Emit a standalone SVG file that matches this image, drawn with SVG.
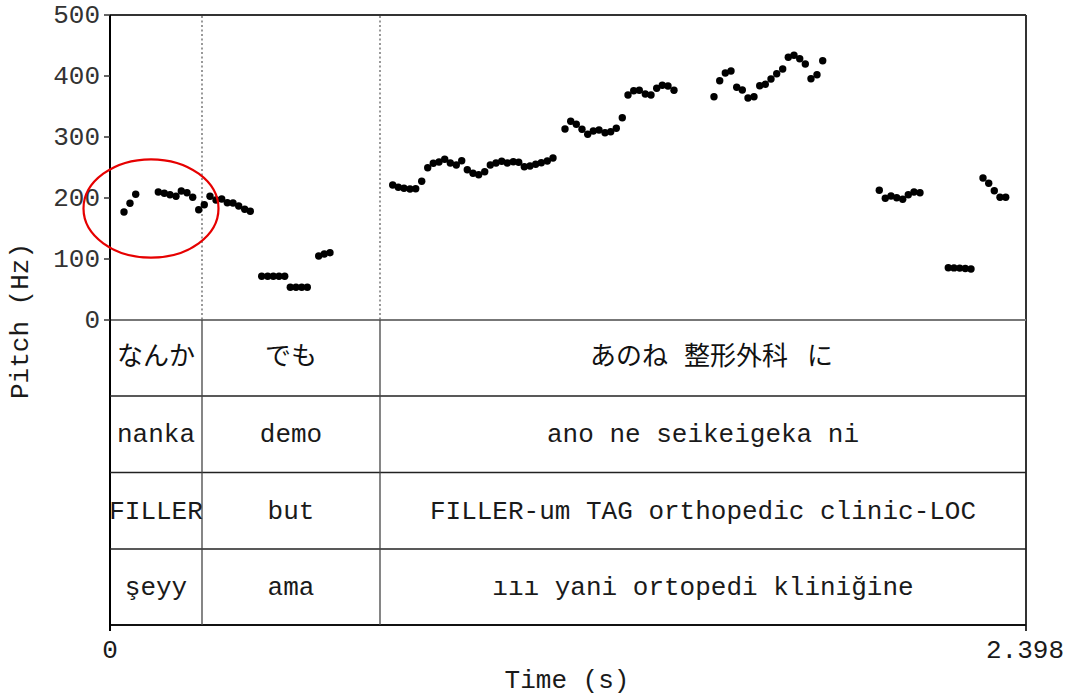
<svg xmlns="http://www.w3.org/2000/svg" width="1070" height="695" viewBox="0 0 1070 695">
<style>
.mono{font-family:"Courier New","Nimbus Mono PS","FreeMono","Liberation Mono",monospace;font-size:26px;fill:#1a1a1a}
.tick{font-family:"Courier New","Nimbus Mono PS","FreeMono","Liberation Mono",monospace;font-size:26px;fill:#333;text-anchor:end}
.jp{font-family:"Noto Sans CJK JP","Noto Sans",sans-serif;font-size:26px;fill:#111;text-anchor:middle}
.js{text-anchor:start}
.mid{text-anchor:middle}
.dots circle{fill:#000}
.row{stroke:#222;stroke-width:1.3}
.sep{stroke:#444;stroke-width:1.3}
.dot{stroke:#555;stroke-width:1.2;stroke-dasharray:2 2.5}
</style>
<rect width="1070" height="695" fill="#fff"/>
<g id="frame" fill="none">
  <line x1="110" y1="15" x2="1026" y2="15" stroke="#333" stroke-width="2"/>
  <line x1="1026" y1="15" x2="1026" y2="631" stroke="#333" stroke-width="2"/>
  <line x1="110" y1="320" x2="1026" y2="320" stroke="#777" stroke-width="2"/>
  <line x1="110" y1="625" x2="1026" y2="625" stroke="#111" stroke-width="2.2"/>
  <line x1="110" y1="15" x2="110" y2="631" stroke="#000" stroke-width="2"/>
  <line class="dot" x1="202" y1="16" x2="202" y2="320"/>
  <line class="dot" x1="380" y1="16" x2="380" y2="320"/>
  <g stroke="#333" stroke-width="1.5">
    <line x1="104" y1="15" x2="110" y2="15"/>
    <line x1="104" y1="76" x2="110" y2="76"/>
    <line x1="104" y1="137" x2="110" y2="137"/>
    <line x1="104" y1="198" x2="110" y2="198"/>
    <line x1="104" y1="259" x2="110" y2="259"/>
    <line x1="104" y1="320" x2="110" y2="320"/>
  </g>
</g>
<g id="yaxis">
  <text class="tick" x="100" y="23">500</text>
  <text class="tick" x="100" y="84">400</text>
  <text class="tick" x="100" y="145">300</text>
  <text class="tick" x="100" y="206">200</text>
  <text class="tick" x="100" y="267">100</text>
  <text class="tick" x="100" y="328">0</text>
  <text class="mono mid" transform="translate(28,321) rotate(-90)">Pitch (Hz)</text>
</g>
<g id="xaxis">
  <text class="mono mid" x="110" y="658">0</text>
  <text class="mono" x="1064" y="658" text-anchor="end">2.398</text>
  <text class="mono mid" x="567" y="688">Time (s)</text>
</g>
<g id="pitch" class="dots">
  <circle cx="124" cy="212" r="3.7"/><circle cx="130" cy="203.3" r="3.7"/><circle cx="135.7" cy="194.3" r="3.7"/>
  <circle cx="158.3" cy="192" r="3.7"/><circle cx="164.3" cy="193.3" r="3.7"/><circle cx="170" cy="194.7" r="3.7"/><circle cx="176" cy="196.3" r="3.7"/><circle cx="181.3" cy="191" r="3.7"/><circle cx="187" cy="192.7" r="3.7"/><circle cx="192.7" cy="197.3" r="3.7"/>
  <circle cx="198.7" cy="209.7" r="3.7"/><circle cx="204.3" cy="204.7" r="3.7"/><circle cx="210" cy="196.3" r="3.7"/><circle cx="216" cy="200" r="3.7"/><circle cx="221.7" cy="199" r="3.7"/><circle cx="227.3" cy="202.7" r="3.7"/><circle cx="233" cy="203" r="3.7"/><circle cx="238.7" cy="206" r="3.7"/><circle cx="244.7" cy="209.3" r="3.7"/><circle cx="250.3" cy="211.3" r="3.7"/>
  <circle cx="261.7" cy="276.3" r="3.7"/><circle cx="267.7" cy="276.3" r="3.7"/><circle cx="273.3" cy="276.3" r="3.7"/><circle cx="279" cy="276.3" r="3.7"/><circle cx="284.7" cy="276.3" r="3.7"/>
  <circle cx="290.3" cy="287.3" r="3.7"/><circle cx="296" cy="287.3" r="3.7"/><circle cx="301.7" cy="287.3" r="3.7"/><circle cx="307.3" cy="287.3" r="3.7"/>
  <circle cx="318.7" cy="256" r="3.7"/><circle cx="324.3" cy="254" r="3.7"/><circle cx="330" cy="252.7" r="3.7"/>
  <circle cx="392.7" cy="185" r="3.7"/><circle cx="398.3" cy="187.3" r="3.7"/><circle cx="404" cy="188.3" r="3.7"/><circle cx="410" cy="189" r="3.7"/><circle cx="415.7" cy="188.7" r="3.7"/><circle cx="421.7" cy="181.3" r="3.7"/><circle cx="427.7" cy="167.7" r="3.7"/><circle cx="433.3" cy="163.3" r="3.7"/><circle cx="439" cy="162" r="3.7"/><circle cx="444.7" cy="159.3" r="3.7"/><circle cx="450.3" cy="163" r="3.7"/><circle cx="456.3" cy="165" r="3.7"/><circle cx="461.7" cy="160.7" r="3.7"/><circle cx="467.3" cy="169.7" r="3.7"/><circle cx="473" cy="173.3" r="3.7"/><circle cx="478.7" cy="174.7" r="3.7"/><circle cx="484.7" cy="171.7" r="3.7"/><circle cx="490.3" cy="165" r="3.7"/><circle cx="496" cy="163" r="3.7"/><circle cx="501.7" cy="161.3" r="3.7"/><circle cx="507.3" cy="163" r="3.7"/><circle cx="513.3" cy="161.7" r="3.7"/><circle cx="518.7" cy="162.3" r="3.7"/><circle cx="524.3" cy="166.7" r="3.7"/><circle cx="530" cy="166" r="3.7"/><circle cx="535.7" cy="164.3" r="3.7"/><circle cx="541.3" cy="162.7" r="3.7"/><circle cx="547.3" cy="161" r="3.7"/><circle cx="553" cy="158" r="3.7"/>
  <circle cx="565" cy="129" r="3.7"/><circle cx="570.7" cy="121.3" r="3.7"/><circle cx="576.3" cy="124.3" r="3.7"/><circle cx="582" cy="129.3" r="3.7"/><circle cx="587.7" cy="134.3" r="3.7"/><circle cx="593.3" cy="131" r="3.7"/><circle cx="599" cy="130" r="3.7"/><circle cx="605" cy="132.7" r="3.7"/><circle cx="610.7" cy="131.7" r="3.7"/><circle cx="616.3" cy="128.3" r="3.7"/><circle cx="622.3" cy="117.7" r="3.7"/><circle cx="628" cy="95" r="3.7"/><circle cx="633.7" cy="90.7" r="3.7"/><circle cx="639.3" cy="90.3" r="3.7"/><circle cx="645.3" cy="94" r="3.7"/><circle cx="651" cy="95" r="3.7"/><circle cx="656.7" cy="88.3" r="3.7"/><circle cx="662.3" cy="85.3" r="3.7"/><circle cx="668" cy="86" r="3.7"/><circle cx="674" cy="90.3" r="3.7"/>
  <circle cx="714" cy="96.7" r="3.7"/><circle cx="719.7" cy="80.7" r="3.7"/><circle cx="725.3" cy="73" r="3.7"/><circle cx="731" cy="71" r="3.7"/><circle cx="736.7" cy="87.3" r="3.7"/><circle cx="742.3" cy="90" r="3.7"/><circle cx="748" cy="98" r="3.7"/><circle cx="754" cy="96.7" r="3.7"/><circle cx="759.7" cy="85.7" r="3.7"/><circle cx="765.3" cy="84.3" r="3.7"/><circle cx="771" cy="79" r="3.7"/><circle cx="776.7" cy="73.7" r="3.7"/><circle cx="782.7" cy="69" r="3.7"/><circle cx="788.3" cy="57.3" r="3.7"/><circle cx="794" cy="55.3" r="3.7"/><circle cx="799.7" cy="58.7" r="3.7"/><circle cx="805.3" cy="64" r="3.7"/><circle cx="811" cy="78.7" r="3.7"/><circle cx="817" cy="74.7" r="3.7"/><circle cx="822.7" cy="60.7" r="3.7"/>
  <circle cx="879.3" cy="190.3" r="3.7"/><circle cx="885.3" cy="198.3" r="3.7"/><circle cx="891" cy="196" r="3.7"/><circle cx="896.7" cy="197.7" r="3.7"/><circle cx="902.7" cy="199.3" r="3.7"/><circle cx="908.3" cy="194.7" r="3.7"/><circle cx="914" cy="192" r="3.7"/><circle cx="920" cy="192.7" r="3.7"/>
  <circle cx="948.3" cy="267.7" r="3.7"/><circle cx="954" cy="267.9" r="3.7"/><circle cx="959.7" cy="268.1" r="3.7"/><circle cx="965.3" cy="268.5" r="3.7"/><circle cx="971" cy="269" r="3.7"/>
  <circle cx="983" cy="178" r="3.7"/><circle cx="988.7" cy="183.3" r="3.7"/><circle cx="994.3" cy="190.7" r="3.7"/><circle cx="1000" cy="197.3" r="3.7"/><circle cx="1005.7" cy="197.3" r="3.7"/>
</g>
<ellipse id="highlight" cx="151" cy="208.5" rx="67.5" ry="49.2" fill="none" stroke="#e60000" stroke-width="2.2"/>
<g id="grid">
  <line class="row" x1="110" y1="396" x2="1026" y2="396"/>
  <line class="row" x1="110" y1="472.5" x2="1026" y2="472.5"/>
  <line class="row" x1="110" y1="549" x2="1026" y2="549"/>
  <line class="sep" x1="202" y1="320" x2="202" y2="625"/>
  <line class="sep" x1="380" y1="320" x2="380" y2="625"/>
</g>
<g id="tier-jp">
  <text class="jp" x="156" y="365">なんか</text>
  <text class="jp" x="291" y="365">でも</text>
  <text class="jp js" y="365"><tspan x="590">あのね</tspan><tspan x="684">整形外科</tspan><tspan x="807">に</tspan></text>
</g>
<g id="tier-romaji">
  <text class="mono mid" x="156" y="442">nanka</text>
  <text class="mono mid" x="291" y="442">demo</text>
  <text class="mono mid" x="703" y="442">ano ne seikeigeka ni</text>
</g>
<g id="tier-gloss">
  <text class="mono mid" x="156" y="519">FILLER</text>
  <text class="mono mid" x="291" y="519">but</text>
  <text class="mono mid" x="703" y="519">FILLER-um TAG orthopedic clinic-LOC</text>
</g>
<g id="tier-tr">
  <text class="mono mid" x="156" y="595">şeyy</text>
  <text class="mono mid" x="291" y="595">ama</text>
  <text class="mono mid" x="703" y="595">ııı yani ortopedi kliniğine</text>
</g>
</svg>
